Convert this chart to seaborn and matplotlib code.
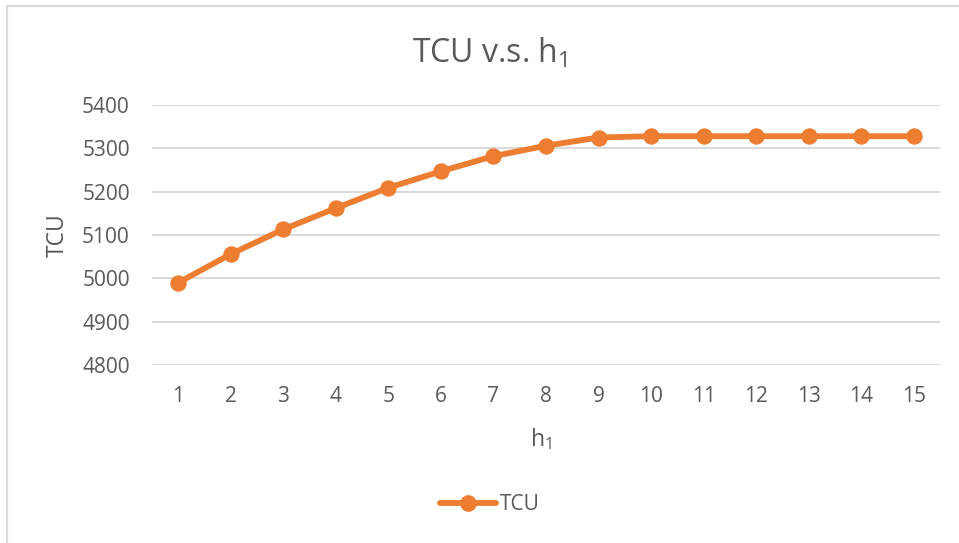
import matplotlib
matplotlib.use("Agg")
import matplotlib.pyplot as plt
import seaborn as sns
import pandas as pd
from matplotlib.lines import Line2D

h1 = list(range(1, 16))
tcu = [4990, 5056, 5113, 5162, 5209, 5247, 5282, 5306, 5325, 5328, 5328, 5328, 5328, 5328, 5328]
y_ticks = [4800, 4900, 5000, 5100, 5200, 5300, 5400]

df = pd.DataFrame({"h1": h1, "TCU": tcu})

sns.set_theme(style="white")
plt.rcParams['font.family'] = ['Open Sans', 'DejaVu Sans']
plt.rcParams['mathtext.fontset'] = 'custom'
plt.rcParams['mathtext.rm'] = 'Open Sans'
plt.rcParams['mathtext.it'] = 'Open Sans'

W, H = 959, 543
fig = plt.figure(figsize=(W / 100, H / 100), dpi=100)
ax = fig.add_axes([152 / W, 1 - 365 / H, (940 - 152) / W, (365 - 105) / H])

orange = "#ED7D31"
grey_text = "#595959"
grid_c = "#D9D9D9"

sns.lineplot(data=df, x="h1", y="TCU", ax=ax, color=orange, linewidth=4.2,
             marker="o", markersize=11, markeredgecolor=orange, markerfacecolor=orange,
             zorder=3, legend=False)

ax.set_xlim(0.5, 15.5)
ax.set_ylim(y_ticks[0], y_ticks[-1])
ax.set_xticks(h1)
ax.set_xticklabels([str(v) for v in h1])
ax.set_yticks(y_ticks)
ax.set_yticklabels([str(v) for v in y_ticks])
ax.tick_params(axis='both', length=0, labelsize=15, labelcolor=grey_text)
ax.tick_params(axis='x', pad=15)
ax.tick_params(axis='y', pad=16)

for v in y_ticks:
    ax.axhline(v, color=grid_c, linewidth=1.4, zorder=1)
for s in ax.spines.values():
    s.set_visible(False)

ax.set_xlabel("")
ax.set_ylabel("")
fig.text(541 / W, 1 - 446 / H, "h$_1$", fontsize=16.5, color=grey_text,
         ha="center", va="baseline")
fig.text(57.5 / W, 1 - 235 / H, "TCU", fontsize=16.5, color=grey_text,
         ha="center", va="center", rotation=90)

fig.text(490 / W, 1 - 63 / H, "TCU v.s. h$_1$", fontsize=23, color=grey_text,
         ha="center", va="baseline")

handle = Line2D([], [], color=orange, linewidth=4.2, marker="o", markersize=11)
fig.legend([handle], ["TCU"], loc="center", bbox_to_anchor=(490 / W, 1 - 505 / H),
           frameon=False, fontsize=15, labelcolor=grey_text, handlelength=2.7,
           handletextpad=0.2)

# chart frame (top and left edges)
fig.add_artist(Line2D([7 / W, 7 / W], [0, 1 - 6 / H], transform=fig.transFigure,
                      color=grid_c, linewidth=1.6))
fig.add_artist(Line2D([7 / W, 1], [1 - 6 / H, 1 - 6 / H], transform=fig.transFigure,
                      color=grid_c, linewidth=1.6))

fig.savefig("out.png", dpi=100, facecolor="white")
